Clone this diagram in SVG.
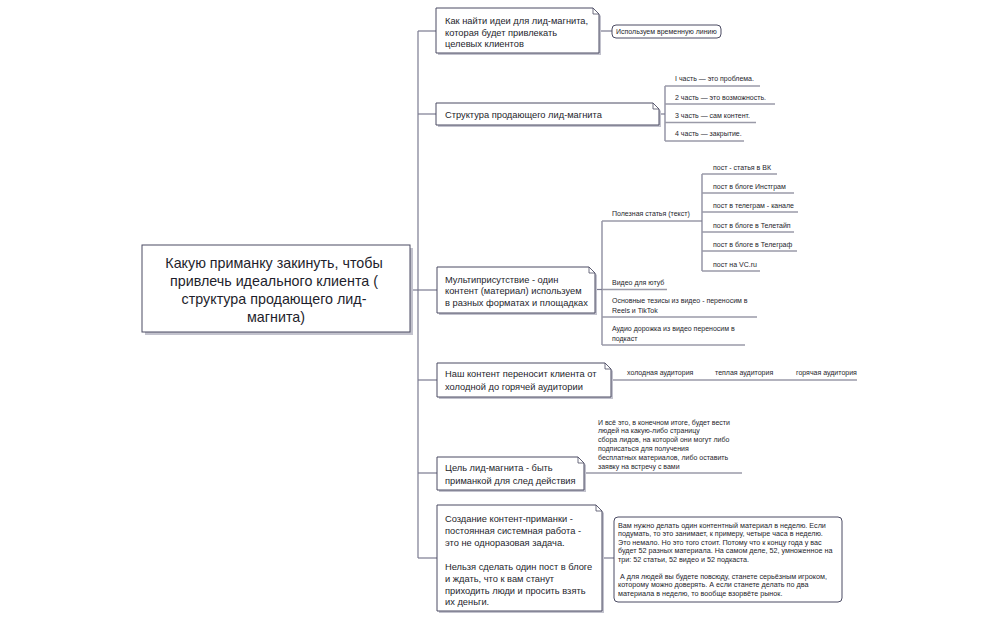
<svg xmlns="http://www.w3.org/2000/svg" width="1001" height="620" viewBox="0 0 1001 620">
<style>
.bg{fill:#ffffff}
.node{fill:#ffffff;stroke:#4b4b63;stroke-width:1}
.shadow{fill:#c2c2cd}
.fold{fill:#ffffff;stroke:#4b4b63;stroke-width:0.8}
.conn{stroke:#7b7b90;stroke-width:1.2;fill:none}
.leaf{stroke:#9a9aa8;stroke-width:1.4;fill:none}
.pill{fill:#ffffff;stroke:#4b4b63;stroke-width:1}
.t{font-family:"Liberation Sans",Arial,sans-serif;fill:#1e1e2c}
.t14{font-size:14.3px}
.t10{font-size:9.3px}
.t7{font-size:7px}
.t7b{font-size:7.2px}
</style>
<rect class="bg" x="0" y="0" width="1001" height="620"/>

<g id="connectors">
  <path class="conn" d="M410 290 H418"/>
  <path class="conn" d="M418 31 V558"/>
  <path class="conn" d="M418 31 H436"/>
  <path class="conn" d="M418 114 H436"/>
  <path class="conn" d="M418 290 H437"/>
  <path class="conn" d="M418 380 H437"/>
  <path class="conn" d="M418 473 H437"/>
  <path class="conn" d="M418 558 H437"/>
  <path class="conn" d="M599 31 H612"/>
  <path class="conn" d="M659 114 H665"/>
  <path class="conn" d="M665 86 V141"/>
  <path class="leaf" d="M665 86 H760"/>
  <path class="leaf" d="M665 104 H775"/>
  <path class="leaf" d="M665 122.5 H756"/>
  <path class="leaf" d="M665 141 H744"/>
  <path class="conn" d="M595 289.5 H602"/>
  <path class="conn" d="M602 221 V345"/>
  <path class="leaf" d="M602 221 H702"/>
  <path class="conn" d="M702 174 V271"/>
  <path class="leaf" d="M702 174 H777"/>
  <path class="leaf" d="M702 193 H794"/>
  <path class="leaf" d="M702 212 H798"/>
  <path class="leaf" d="M702 232 H794"/>
  <path class="leaf" d="M702 251 H797"/>
  <path class="leaf" d="M702 271 H760"/>
  <path class="leaf" d="M602 289.5 H667"/>
  <path class="leaf" d="M602 317 H757"/>
  <path class="leaf" d="M602 345 H745"/>
  <path class="leaf" d="M611 380 H700"/>
  <path class="leaf" d="M700 380 H780"/>
  <path class="leaf" d="M780 380 H857"/>
  <path class="leaf" d="M584 473 H742"/>
  <path class="conn" d="M602 558 H614"/>
</g>

<g id="central">
  <rect class="shadow" x="145" y="248" width="268" height="87"/>
  <rect class="node" x="142" y="245" width="268" height="87"/>
  <text class="t t14" text-anchor="middle">
    <tspan x="276" y="268">Какую приманку закинуть, чтобы</tspan>
    <tspan x="276" y="286">привлечь идеального клиента (</tspan>
    <tspan x="276" y="304">структура продающего лид-</tspan>
    <tspan x="276" y="322">магнита)</tspan>
  </text>
</g>

<g id="node-ideas">
  <path class="shadow" d="M438 10 H595 L601 16 V55 H438 Z"/>
  <path class="node" d="M436 8 H593 L599 14 V53 H436 Z"/>
  <path class="fold" d="M593 8 V14 H599 Z"/>
  <text class="t t10">
    <tspan x="445" y="24">Как найти идеи для лид-магнита,</tspan>
    <tspan x="445" y="35.5">которая будет привлекать</tspan>
    <tspan x="445" y="47">целевых клиентов</tspan>
  </text>
</g>

<g id="pill-timeline">
  <rect class="pill" x="612" y="25" width="109" height="13" rx="4"/>
  <text class="t t7" x="616" y="34">Используем временную линию</text>
</g>

<g id="node-structure">
  <path class="shadow" d="M438 105 H655 L661 111 V127 H438 Z"/>
  <path class="node" d="M436 103 H653 L659 109 V125 H436 Z"/>
  <path class="fold" d="M653 103 V109 H659 Z"/>
  <text class="t t10" x="445" y="118">Структура продающего лид-магнита</text>
</g>

<g id="structure-items">
  <text class="t t7" x="675" y="81">I часть — это проблема.</text>
  <text class="t t7" x="675" y="99.5">2 часть — это возможность.</text>
  <text class="t t7" x="675" y="118">3 часть — сам контент.</text>
  <text class="t t7" x="675" y="136">4 часть — закрытие.</text>
</g>

<g id="node-multi">
  <path class="shadow" d="M439 269 H591 L597 275 V315 H439 Z"/>
  <path class="node" d="M437 267 H589 L595 273 V313 H437 Z"/>
  <path class="fold" d="M589 267 V273 H595 Z"/>
  <text class="t t10">
    <tspan x="445" y="282.5">Мультиприсутствие - один</tspan>
    <tspan x="445" y="294">контент (материал) используем</tspan>
    <tspan x="445" y="305.5">в разных форматах и площадках</tspan>
  </text>
</g>

<g id="multi-items">
  <text class="t t7" x="612" y="216">Полезная статья (текст)</text>
  <text class="t t7" x="713" y="169.5">пост - статья в ВК</text>
  <text class="t t7" x="713" y="188.5">пост в блоге Инстграм</text>
  <text class="t t7" x="713" y="207.5">пост в телеграм - канале</text>
  <text class="t t7" x="713" y="227.5">пост в блоге в Телетайп</text>
  <text class="t t7" x="713" y="246.5">пост в блоге в Телеграф</text>
  <text class="t t7" x="713" y="266.5">пост на VC.ru</text>
  <text class="t t7" x="612" y="285">Видео для ютуб</text>
  <text class="t t7">
    <tspan x="612" y="302.5">Основные тезисы из видео - переносим в</tspan>
    <tspan x="612" y="312.5">Reels и TikTok</tspan>
  </text>
  <text class="t t7">
    <tspan x="612" y="330.5">Аудио дорожка из видео переносим в</tspan>
    <tspan x="612" y="340.5">подкаст</tspan>
  </text>
</g>

<g id="node-audience">
  <path class="shadow" d="M439 365 H607 L613 371 V399 H439 Z"/>
  <path class="node" d="M437 363 H605 L611 369 V397 H437 Z"/>
  <path class="fold" d="M605 363 V369 H611 Z"/>
  <text class="t t10">
    <tspan x="445" y="377">Наш контент переносит клиента от</tspan>
    <tspan x="445" y="389.5">холодной до горячей аудитории</tspan>
  </text>
</g>

<g id="audience-items">
  <text class="t t7" x="627" y="375">холодная аудитория</text>
  <text class="t t7" x="715" y="375">теплая аудитория</text>
  <text class="t t7" x="796" y="375">горячая аудитория</text>
</g>

<g id="node-goal">
  <path class="shadow" d="M439 459 H580 L586 465 V492 H439 Z"/>
  <path class="node" d="M437 457 H578 L584 463 V490 H437 Z"/>
  <path class="fold" d="M578 457 V463 H584 Z"/>
  <text class="t t10">
    <tspan x="445" y="471">Цель лид-магнита - быть</tspan>
    <tspan x="445" y="483.5">приманкой для след действия</tspan>
  </text>
</g>

<g id="goal-text">
  <text class="t t7">
    <tspan x="598" y="424.5">И всё это, в конечном итоге, будет вести</tspan>
    <tspan x="598" y="433.3">людей на какую-либо страницу</tspan>
    <tspan x="598" y="442.1">сбора лидов, на которой они могут либо</tspan>
    <tspan x="598" y="450.9">подписаться для получения</tspan>
    <tspan x="598" y="459.7">бесплатных материалов, либо оставить</tspan>
    <tspan x="598" y="468.5">заявку на встречу с вами</tspan>
  </text>
</g>

<g id="node-creation">
  <path class="shadow" d="M439 507 H598 L604 513 V613 H439 Z"/>
  <path class="node" d="M437 505 H596 L602 511 V611 H437 Z"/>
  <path class="fold" d="M596 505 V511 H602 Z"/>
  <text class="t t10">
    <tspan x="445" y="521.5">Создание контент-приманки -</tspan>
    <tspan x="445" y="533.5">постоянная системная работа -</tspan>
    <tspan x="445" y="545.5">это не одноразовая задача.</tspan>
    <tspan x="445" y="569.5">Нельзя сделать один пост в блоге</tspan>
    <tspan x="445" y="581.5">и ждать, что к вам станут</tspan>
    <tspan x="445" y="593.5">приходить люди и просить взять</tspan>
    <tspan x="445" y="605">их деньги.</tspan>
  </text>
</g>

<g id="creation-note">
  <rect class="pill" x="614" y="517" width="228" height="85" rx="4"/>
  <text class="t t7b">
    <tspan x="618" y="527.5">Вам нужно делать один контентный материал в неделю. Если</tspan>
    <tspan x="618" y="536">подумать, то это занимает, к примеру, четыре часа в неделю.</tspan>
    <tspan x="618" y="544.5">Это немало. Но это того стоит. Потому что к концу года у вас</tspan>
    <tspan x="618" y="553">будет 52 разных материала. На самом деле, 52, умноженное на</tspan>
    <tspan x="618" y="561.5">три: 52 статьи, 52 видео и 52 подкаста.</tspan>
    <tspan x="620" y="578.5">А для людей вы будете повсюду, станете серьёзным игроком,</tspan>
    <tspan x="618" y="587">которому можно доверять. А если станете делать по два</tspan>
    <tspan x="618" y="595.5">материала в неделю, то вообще взорвёте рынок.</tspan>
  </text>
</g>
</svg>
